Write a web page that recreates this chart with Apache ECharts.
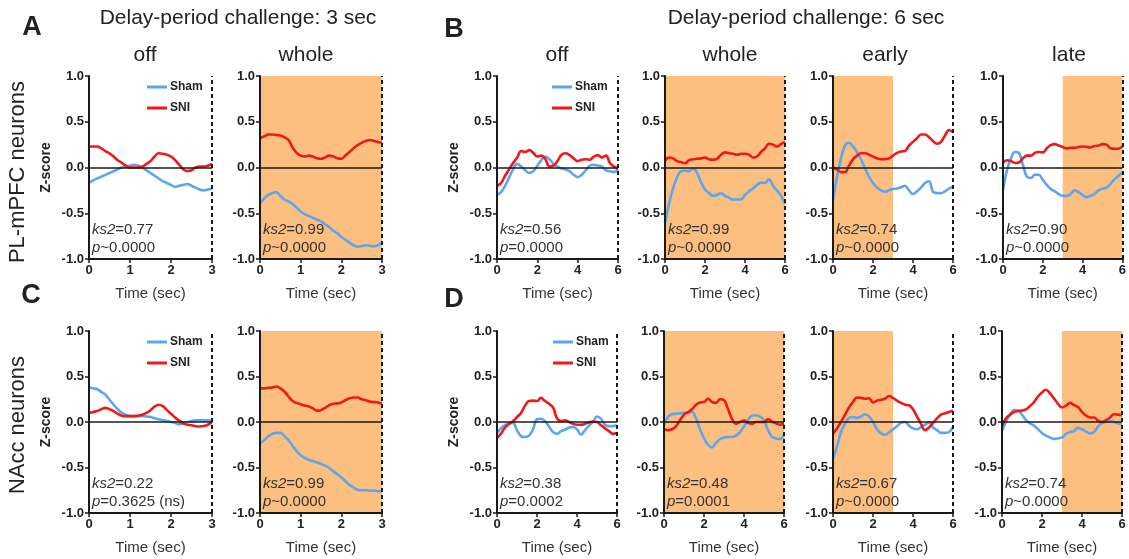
<!DOCTYPE html>
<html>
<head>
<meta charset="utf-8">
<script src="https://cdn.jsdelivr.net/npm/echarts/dist/echarts.min.js"></script>
<style>
  html, body { margin: 0; padding: 0; background: #fff; }
  #chart { width: 1129px; height: 559px; }
</style>
</head>
<body>
<div id="chart"></div>
<script>
// time points (sec)
const timesShort = [0, 0.1, 0.2, 0.3, 0.4, 0.5, 0.6, 0.7, 0.8, 0.9, 1.0, 1.1, 1.2, 1.3, 1.4, 1.5, 1.6, 1.7, 1.8, 1.9, 2.0, 2.1, 2.2, 2.3, 2.4, 2.5, 2.6, 2.7, 2.8, 2.9, 3.0];
const timesLong = [0, 0.2, 0.4, 0.6, 0.8, 1.0, 1.2, 1.4, 1.6, 1.8, 2.0, 2.2, 2.4, 2.6, 2.8, 3.0, 3.2, 3.4, 3.6, 3.8, 4.0, 4.2, 4.4, 4.6, 4.8, 5.0, 5.2, 5.4, 5.6, 5.8, 6.0];

// A: PL-mPFC, 3 sec
const aOffSham = [-0.17, -0.14, -0.12, -0.10, -0.08, -0.06, -0.04, -0.02, 0.0, 0.01, 0.02, 0.03, 0.02, 0.0, -0.03, -0.06, -0.09, -0.12, -0.15, -0.17, -0.19, -0.21, -0.20, -0.19, -0.18, -0.20, -0.22, -0.24, -0.25, -0.24, -0.23];
const aOffSni = [0.23, 0.23, 0.23, 0.21, 0.18, 0.155, 0.12, 0.08, 0.05, 0.02, 0.0, 0.0, 0.0, 0.01, 0.04, 0.07, 0.12, 0.155, 0.15, 0.14, 0.12, 0.08, 0.03, -0.02, -0.04, -0.03, 0.0, 0.01, 0.01, 0.02, 0.04];
const aWholeSham = [-0.39, -0.34, -0.30, -0.28, -0.27, -0.31, -0.35, -0.37, -0.40, -0.44, -0.48, -0.51, -0.53, -0.55, -0.57, -0.59, -0.62, -0.65, -0.69, -0.72, -0.76, -0.79, -0.82, -0.85, -0.865, -0.86, -0.85, -0.855, -0.86, -0.85, -0.82];
const aWholeSni = [0.32, 0.34, 0.36, 0.36, 0.355, 0.35, 0.33, 0.30, 0.22, 0.16, 0.13, 0.12, 0.13, 0.12, 0.10, 0.095, 0.11, 0.13, 0.12, 0.10, 0.095, 0.13, 0.17, 0.21, 0.245, 0.27, 0.29, 0.30, 0.29, 0.28, 0.27];

// B: PL-mPFC, 6 sec
const bOffSham = [-0.30, -0.27, -0.20, -0.11, -0.02, 0.04, 0.01, -0.03, -0.06, -0.04, 0.02, 0.08, 0.12, 0.09, 0.04, 0.01, -0.01, -0.02, -0.04, -0.08, -0.105, -0.08, -0.03, 0.02, 0.03, 0.02, 0.01, -0.03, -0.04, -0.05, -0.02];
const bOffSni = [-0.20, -0.17, -0.09, -0.02, 0.05, 0.11, 0.18, 0.17, 0.19, 0.16, 0.12, 0.13, 0.09, 0.01, 0.02, 0.07, 0.14, 0.155, 0.135, 0.10, 0.07, 0.085, 0.09, 0.085, 0.12, 0.135, 0.11, 0.13, 0.05, 0.01, -0.01];
const bWholeSham = [-0.61, -0.40, -0.23, -0.11, -0.04, -0.035, -0.04, -0.01, -0.06, -0.16, -0.24, -0.28, -0.31, -0.30, -0.28, -0.31, -0.33, -0.35, -0.35, -0.35, -0.30, -0.26, -0.23, -0.19, -0.165, -0.17, -0.13, -0.20, -0.25, -0.31, -0.40];
const bWholeSni = [0.075, 0.11, 0.10, 0.07, 0.06, 0.045, 0.08, 0.09, 0.095, 0.10, 0.11, 0.09, 0.085, 0.095, 0.14, 0.165, 0.155, 0.15, 0.14, 0.15, 0.15, 0.14, 0.11, 0.12, 0.17, 0.21, 0.26, 0.25, 0.23, 0.255, 0.28];
const bEarlySham = [-0.355, -0.10, 0.10, 0.24, 0.27, 0.23, 0.17, 0.09, -0.01, -0.10, -0.17, -0.22, -0.25, -0.265, -0.25, -0.235, -0.23, -0.215, -0.20, -0.25, -0.29, -0.26, -0.22, -0.17, -0.15, -0.265, -0.28, -0.28, -0.26, -0.23, -0.21];
const bEarlySni = [0.0, -0.02, -0.05, -0.05, 0.02, 0.09, 0.13, 0.155, 0.155, 0.14, 0.12, 0.10, 0.09, 0.09, 0.10, 0.13, 0.16, 0.175, 0.18, 0.24, 0.28, 0.32, 0.36, 0.36, 0.33, 0.29, 0.26, 0.28, 0.35, 0.41, 0.385];
const bLateSham = [-0.245, -0.03, 0.10, 0.17, 0.16, 0.03, -0.10, -0.115, -0.08, -0.08, -0.135, -0.19, -0.235, -0.26, -0.29, -0.31, -0.31, -0.29, -0.25, -0.27, -0.30, -0.325, -0.31, -0.29, -0.25, -0.23, -0.22, -0.18, -0.13, -0.09, -0.055];
const bLateSni = [0.05, 0.08, 0.07, 0.05, 0.055, 0.10, 0.13, 0.13, 0.16, 0.17, 0.165, 0.21, 0.245, 0.255, 0.24, 0.225, 0.21, 0.215, 0.215, 0.225, 0.23, 0.225, 0.22, 0.235, 0.24, 0.255, 0.25, 0.21, 0.205, 0.205, 0.23];

// C: NAcc, 3 sec
const cOffSham = [0.38, 0.37, 0.36, 0.33, 0.30, 0.245, 0.19, 0.14, 0.10, 0.08, 0.065, 0.065, 0.065, 0.065, 0.06, 0.055, 0.04, 0.03, 0.02, 0.01, 0.0, -0.01, -0.025, -0.015, 0.0, 0.01, 0.02, 0.02, 0.02, 0.02, 0.01];
const cOffSni = [0.095, 0.11, 0.12, 0.14, 0.155, 0.14, 0.12, 0.09, 0.07, 0.065, 0.065, 0.065, 0.07, 0.08, 0.10, 0.13, 0.17, 0.19, 0.175, 0.13, 0.09, 0.05, 0.015, -0.015, -0.03, -0.035, -0.045, -0.05, -0.045, -0.03, 0.0];
const cWholeSham = [-0.235, -0.20, -0.16, -0.13, -0.12, -0.12, -0.155, -0.20, -0.26, -0.32, -0.365, -0.395, -0.415, -0.43, -0.445, -0.46, -0.48, -0.505, -0.54, -0.575, -0.61, -0.65, -0.69, -0.72, -0.745, -0.75, -0.75, -0.755, -0.755, -0.76, -0.765];
const cWholeSni = [0.37, 0.37, 0.375, 0.38, 0.39, 0.37, 0.335, 0.28, 0.23, 0.21, 0.195, 0.18, 0.17, 0.15, 0.125, 0.13, 0.155, 0.185, 0.20, 0.205, 0.215, 0.24, 0.26, 0.27, 0.27, 0.25, 0.24, 0.225, 0.22, 0.215, 0.20];

// D: NAcc, 6 sec
const dOffSham = [-0.12, -0.07, -0.035, -0.02, -0.01, -0.09, -0.155, -0.165, -0.15, -0.08, 0.03, 0.035, 0.01, -0.05, -0.11, -0.13, -0.10, -0.085, -0.06, -0.055, -0.08, -0.14, -0.09, -0.04, 0.0, 0.06, 0.035, -0.03, -0.045, -0.045, -0.035];
const dOffSni = [-0.175, -0.13, -0.06, -0.02, 0.01, 0.055, 0.10, 0.18, 0.23, 0.235, 0.23, 0.265, 0.23, 0.20, 0.16, 0.04, 0.01, 0.02, 0.0, -0.02, -0.03, -0.03, -0.02, -0.005, 0.005, 0.0, -0.035, -0.07, -0.10, -0.13, -0.12];
const dWholeSham = [-0.035, 0.055, 0.085, 0.09, 0.095, 0.10, 0.10, 0.11, 0.04, -0.08, -0.18, -0.25, -0.28, -0.23, -0.19, -0.17, -0.165, -0.165, -0.15, -0.11, -0.05, 0.02, 0.07, 0.075, 0.06, 0.02, -0.09, -0.16, -0.18, -0.185, -0.14];
const dWholeSni = [-0.075, -0.09, -0.08, -0.045, 0.02, 0.08, 0.11, 0.14, 0.19, 0.215, 0.22, 0.255, 0.22, 0.21, 0.25, 0.24, 0.14, 0.035, -0.02, 0.0, 0.015, -0.01, -0.02, 0.0, 0.0, 0.0, 0.03, 0.005, -0.015, -0.03, -0.02];
const dEarlySham = [-0.405, -0.27, -0.11, -0.02, 0.045, 0.055, 0.045, 0.06, 0.085, 0.06, 0.0, -0.08, -0.125, -0.14, -0.115, -0.08, -0.045, -0.01, 0.0, -0.04, -0.07, -0.08, -0.055, -0.03, -0.005, -0.06, -0.09, -0.12, -0.12, -0.11, -0.055];
const dEarlySni = [-0.13, -0.07, 0.0, 0.08, 0.16, 0.22, 0.27, 0.265, 0.255, 0.26, 0.215, 0.235, 0.245, 0.255, 0.285, 0.265, 0.235, 0.21, 0.19, 0.185, 0.14, 0.06, -0.02, -0.09, -0.06, -0.01, 0.04, 0.08, 0.095, 0.11, 0.125];
const dLateSham = [-0.10, 0.005, 0.08, 0.13, 0.125, 0.08, 0.02, -0.015, -0.04, -0.08, -0.12, -0.15, -0.17, -0.185, -0.18, -0.17, -0.13, -0.11, -0.10, -0.065, -0.08, -0.105, -0.125, -0.11, -0.05, -0.01, 0.0, 0.01, 0.0, -0.015, -0.025];
const dLateSni = [-0.045, 0.04, 0.08, 0.11, 0.12, 0.125, 0.14, 0.175, 0.22, 0.28, 0.325, 0.355, 0.315, 0.26, 0.20, 0.16, 0.18, 0.21, 0.185, 0.165, 0.11, 0.07, 0.05, 0.05, 0.015, 0.0, 0.02, 0.05, 0.085, 0.08, 0.075];

// statistics text per panel
const ksValues = ['0.77', '0.99', '0.56', '0.99', '0.74', '0.90', '0.22', '0.99', '0.38', '0.48', '0.67', '0.74'];
const pTexts = ['~0.0000', '~0.0000', '=0.0000', '~0.0000', '~0.0000', '~0.0000', '=0.3625 (ns)', '~0.0000', '=0.0002', '=0.0001', '~0.0000', '~0.0000'];
const yTicks = [-1.0, -0.5, 0.0, 0.5, 1.0];

const FONT = "'Liberation Sans', Arial, sans-serif";
const SHAM_COLOR = '#5ba6ee';
const SNI_COLOR = '#f01818';
const SHADE = '#fdbf80';
const INK = '#1a1a1a';

// layout of the 12 panels
const panels = [
  { title: 'off',   tx: 145,  left: 89,   top: 76,  width: 123, height: 183, long: false, shade: null,   sham: aOffSham,   sni: aOffSni,   legend: 147 },
  { title: 'whole', tx: 306,  left: 260,  top: 76,  width: 122, height: 183, long: false, shade: [0, 3], sham: aWholeSham, sni: aWholeSni },
  { title: 'off',   tx: 557,  left: 497,  top: 76,  width: 121, height: 183, long: true,  shade: null,   sham: bOffSham,   sni: bOffSni,   legend: 552 },
  { title: 'whole', tx: 730,  left: 665,  top: 76,  width: 120, height: 183, long: true,  shade: [0, 6], sham: bWholeSham, sni: bWholeSni },
  { title: 'early', tx: 885,  left: 833,  top: 76,  width: 120, height: 183, long: true,  shade: [0, 3], sham: bEarlySham, sni: bEarlySni },
  { title: 'late',  tx: 1069, left: 1003, top: 76,  width: 120, height: 183, long: true,  shade: [3, 6], sham: bLateSham,  sni: bLateSni },
  { title: null,    tx: 0,    left: 89,   top: 331, width: 123, height: 182, long: false, shade: null,   sham: cOffSham,   sni: cOffSni,   legend: 147 },
  { title: null,    tx: 0,    left: 260,  top: 331, width: 122, height: 182, long: false, shade: [0, 3], sham: cWholeSham, sni: cWholeSni },
  { title: null,    tx: 0,    left: 497,  top: 331, width: 120, height: 182, long: true,  shade: null,   sham: dOffSham,   sni: dOffSni,   legend: 553 },
  { title: null,    tx: 0,    left: 664,  top: 331, width: 120, height: 182, long: true,  shade: [0, 6], sham: dWholeSham, sni: dWholeSni },
  { title: null,    tx: 0,    left: 833,  top: 331, width: 120, height: 182, long: true,  shade: [0, 3], sham: dEarlySham, sni: dEarlySni },
  { title: null,    tx: 0,    left: 1002, top: 331, width: 120, height: 182, long: true,  shade: [3, 6], sham: dLateSham,  sni: dLateSni }
];

const grid = [], xAxis = [], yAxis = [], series = [], legend = [];
const graphic = [];

function txt(x, y, text, font, extra) {
  return Object.assign({
    type: 'text', x: x, y: y, silent: true,
    style: { text: text, font: font, fill: '#222', textAlign: 'center', textVerticalAlign: 'middle' }
  }, extra || {});
}

panels.forEach(function (p, i) {
  const tmax = p.long ? 6 : 3;
  const times = p.long ? timesLong : timesShort;
  const firstCol = (p.legend !== undefined);
  grid.push({ left: p.left, top: p.top, width: p.width, height: p.height });
  xAxis.push({
    gridIndex: i, type: 'value', min: 0, max: tmax, interval: tmax / 3,
    name: 'Time (sec)', nameLocation: 'middle', nameGap: 27,
    nameTextStyle: { fontFamily: FONT, fontSize: 15, color: '#333' },
    axisLine: { onZero: false, lineStyle: { color: INK, width: 2 } },
    axisTick: { length: 4, lineStyle: { color: INK, width: 1.5 } },
    axisLabel: { fontFamily: FONT, fontSize: 13, fontWeight: 'bold', color: '#222', margin: 5 },
    splitLine: { show: false }, z: 10
  });
  yAxis.push({
    gridIndex: i, type: 'value', min: yTicks[0], max: yTicks[yTicks.length - 1], interval: 0.5,
    name: firstCol ? 'Z-score' : '', nameLocation: 'middle', nameGap: 36,
    nameTextStyle: { fontFamily: FONT, fontSize: 14, fontWeight: 'bold', color: '#222' },
    axisLine: { show: true, onZero: false, lineStyle: { color: INK, width: 2 } },
    axisTick: { show: true, length: 4, lineStyle: { color: INK, width: 1.5 } },
    axisLabel: { fontFamily: FONT, fontSize: 13, fontWeight: 'bold', color: '#222', margin: 5,
      formatter: function (v) { return v.toFixed(1); } },
    splitLine: { show: false }, z: 10
  });
  // background: shading, zero line, dashed end line
  series.push({
    name: 'bg' + i, type: 'line', xAxisIndex: i, yAxisIndex: i, data: [], silent: true, z: 1,
    markArea: p.shade ? {
      silent: true, itemStyle: { color: SHADE },
      data: [[{ xAxis: p.shade[0], yAxis: 1 }, { xAxis: p.shade[1], yAxis: -1 }]]
    } : undefined,
    markLine: {
      silent: true, symbol: ['none', 'none'], label: { show: false },
      data: [
        { yAxis: 0, lineStyle: { color: INK, width: 1.5, type: 'solid' } },
        { xAxis: tmax, lineStyle: { color: INK, width: 2, type: [4, 3] } }
      ]
    }
  });
  series.push({
    name: 'Sham', type: 'line', xAxisIndex: i, yAxisIndex: i, z: 3,
    data: times.map(function (t, k) { return [t, p.sham[k]]; }),
    smooth: 0.4, showSymbol: false, lineStyle: { color: SHAM_COLOR, width: 2.6 }, itemStyle: { color: SHAM_COLOR }
  });
  series.push({
    name: 'SNI', type: 'line', xAxisIndex: i, yAxisIndex: i, z: 4,
    data: times.map(function (t, k) { return [t, p.sni[k]]; }),
    smooth: 0.4, showSymbol: false, lineStyle: { color: SNI_COLOR, width: 2.6 }, itemStyle: { color: SNI_COLOR }
  });
  if (firstCol) {
    legend.push({
      data: ['Sham', 'SNI'], orient: 'vertical', left: p.legend, top: p.top + 5, padding: 0,
      icon: 'rect', itemWidth: 20, itemHeight: 3, itemGap: 9, selectedMode: false,
      textStyle: { fontFamily: FONT, fontSize: 12, fontWeight: 'bold', color: '#222', padding: [0, 0, 0, -2] }
    });
  }
  if (p.title) {
    graphic.push(txt(p.tx, 55, p.title, '21px ' + FONT));
  }
  const bottom = p.top + p.height;
  graphic.push({
    type: 'text', x: p.left + 3, y: bottom - 38, silent: true, z: 20,
    style: {
      text: '{i|ks2}=' + ksValues[i] + '\n{i|p}' + pTexts[i],
      font: '15px ' + FONT, fill: '#333', lineHeight: 18,
      rich: { i: { fontStyle: 'italic', fontSize: 15, fontFamily: FONT, fill: '#333', lineHeight: 18 } }
    }
  });
});

// headings, panel letters, row labels
graphic.push(txt(238, 18, 'Delay-period challenge: 3 sec', '21px ' + FONT));
graphic.push(txt(806, 18, 'Delay-period challenge: 6 sec', '21px ' + FONT));
graphic.push(txt(32, 28, 'A', 'bold 27px ' + FONT));
graphic.push(txt(454, 30, 'B', 'bold 27px ' + FONT));
graphic.push(txt(31, 296, 'C', 'bold 27px ' + FONT));
graphic.push(txt(454, 300, 'D', 'bold 27px ' + FONT));
graphic.push(txt(18, 172, 'PL-mPFC neurons', '22px ' + FONT, { rotation: Math.PI / 2 }));
graphic.push(txt(18, 425, 'NAcc neurons', '22px ' + FONT, { rotation: Math.PI / 2 }));

const chart = echarts.init(document.getElementById('chart'));
chart.setOption({
  animation: false,
  backgroundColor: '#fff',
  textStyle: { fontFamily: FONT },
  grid: grid,
  xAxis: xAxis,
  yAxis: yAxis,
  legend: legend,
  series: series,
  graphic: graphic
});
</script>
</body>
</html>
